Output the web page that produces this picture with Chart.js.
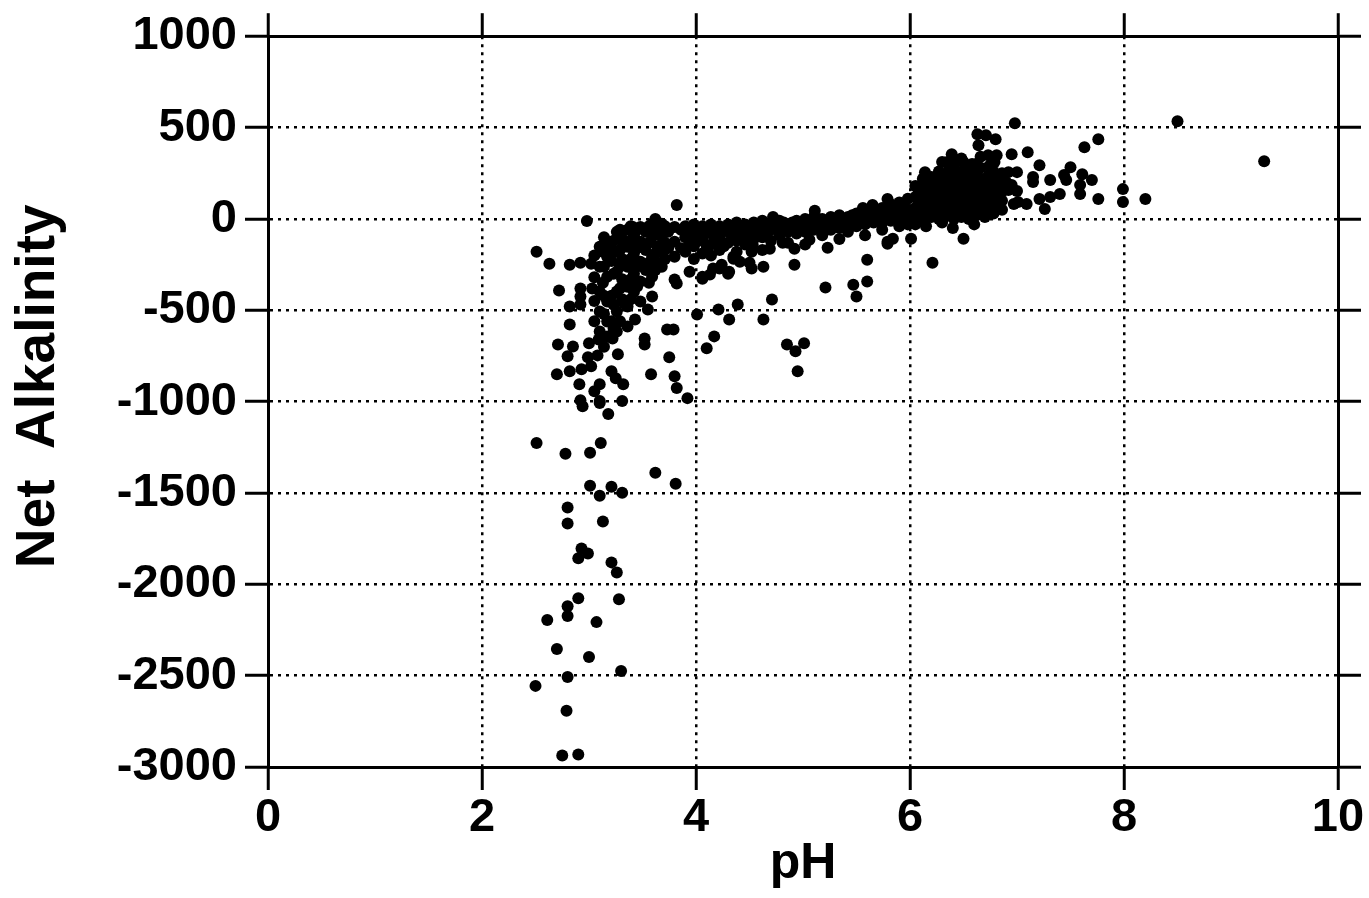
<!DOCTYPE html>
<html>
<head>
<meta charset="utf-8">
<title>Net Alkalinity vs pH</title>
<script src="https://cdn.jsdelivr.net/npm/chart.js@4.4.0/dist/chart.umd.min.js"></script>
<style>
  html, body { margin: 0; padding: 0; background: #fff; }
  canvas { display: block; }
</style>
</head>
<body>
<canvas id="myChart" width="1369" height="898"></canvas>
<script>
// tick values
const xTicks = [0, 2, 4, 6, 8, 10];
const yTicks = [-3000, -2500, -2000, -1500, -1000, -500, 0, 500, 1000];

// [pH, net alkalinity]

// very acid, strongly negative tail
const tailPoints = [
  [2.94,-1025],[3.10,-1008],[3.18,-1068],[3.31,-997],[2.51,-1226],[2.78,-1286],
  [3.01,-1280],[3.11,-1226],[3.62,-1390],[3.81,-1450],[3.01,-1460],[3.21,-1466],
  [3.10,-1515],[3.31,-1499],[2.80,-1580],[2.80,-1667],[3.13,-1656],[2.93,-1804],
  [2.99,-1831],[2.90,-1858],[3.21,-1880],[3.26,-1935],[2.90,-2076],[3.28,-2082],
  [2.80,-2120],[2.80,-2174],[2.61,-2196],[3.07,-2207],[2.70,-2354],[3.00,-2398],
  [3.30,-2474],[2.80,-2507],[2.50,-2556],[2.79,-2692],[2.75,-2937],[2.90,-2932],
  [2.92,-992],[3.10,-997],[3.92,-981]
];

// acid cluster, pH 2.5 - 4.3
const acidPoints = [
  [2.98,-11],[3.82,76],[2.51,-180],[2.63,-245],[2.82,-251],[2.92,-240],[3.02,-245],
  [2.72,-392],[2.92,-381],[3.03,-381],[2.82,-480],[2.92,-425],[2.92,-469],[2.82,-578],
  [2.71,-687],[2.85,-698],[3.00,-681],[2.80,-752],[2.99,-757],[3.08,-747],[3.27,-741],
  [2.70,-850],[2.82,-834],[2.93,-823],[3.02,-807],[2.91,-905],[3.10,-905],[3.05,-943],
  [3.21,-834],[3.25,-872],[3.32,-905],
  [3.10,-153],[3.10,-262],[3.10,-398],[3.10,-507],[3.10,-616],
  [3.17,-125],[3.17,-207],[3.17,-316],[3.17,-452],[3.17,-561],[3.17,-643],
  [3.26,-71],[3.26,-180],[3.26,-289],[3.26,-398],[3.26,-507],[3.26,-616],
  [3.36,-60],[3.36,-153],[3.36,-262],[3.36,-371],[3.36,-480],[3.36,-589],
  [3.48,-44],[3.48,-125],[3.48,-234],[3.48,-343],[3.48,-452],
  [3.59,-27],[3.59,-98],[3.59,-207],[3.59,-316],[3.59,-425],
  [3.68,-27],[3.68,-98],[3.68,-180],[3.68,-262],
  [3.80,-44],[3.80,-125],[3.80,-207],
  [3.13,-180],[3.13,-350],[3.21,-230],[3.21,-420],[3.21,-560],[3.31,-120],[3.31,-220],
  [3.31,-330],[3.31,-440],[3.42,-90],[3.42,-190],[3.42,-300],[3.42,-400],[3.53,-70],
  [3.53,-170],[3.53,-280],[3.64,-60],[3.64,-150],[3.64,-240],[3.74,-70],[3.74,-160],
  [3.21,-163],[3.31,-109],[3.41,-44],[3.62,0],
  [3.52,-654],[3.52,-687],[3.73,-605],[3.79,-605],[3.75,-757],[3.58,-850],[3.80,-861],
  [3.82,-926],[3.80,-332],[3.43,-550],[3.55,-496],[3.33,-463],[3.09,-660],[3.22,-654],
  [3.82,-354],[3.94,-289],[4.06,-316],[4.16,-272],[4.24,-251],[4.30,-300],
  [3.05,-200],[3.05,-320],[3.05,-450],[3.05,-560],
  [3.14,-100],[3.14,-260],[3.14,-420],[3.14,-520],[3.14,-700],
  [3.23,-120],[3.23,-300],[3.23,-470],[3.23,-600],
  [3.29,-60],[3.29,-170],[3.29,-260],[3.29,-380],[3.29,-560],
  [3.39,-40],[3.39,-120],[3.39,-220],[3.39,-330],[3.39,-440],
  [3.45,-60],[3.45,-160],[3.45,-260],[3.45,-370],
  [3.56,-40],[3.56,-130],[3.56,-240],[3.56,-350],
  [3.62,-80],[3.62,-190],[3.62,-280],
  [3.71,-40],[3.71,-130],[3.71,-220],
  [3.86,-60],[3.86,-160]
];

// transition band, pH 3.9 - 6
const bandPoints = [
  [3.90,-40],[3.90,-100],[3.90,-180],
  [3.98,-30],[3.98,-90],[3.98,-150],[3.98,-220],
  [4.06,-40],[4.06,-110],[4.06,-190],
  [4.14,-30],[4.14,-80],[4.14,-140],[4.14,-200],
  [4.22,-40],[4.22,-100],[4.22,-170],
  [4.30,-30],[4.30,-70],[4.30,-130],
  [4.38,-20],[4.38,-60],[4.38,-120],[4.38,-180],
  [4.46,-30],[4.46,-80],[4.46,-140],
  [4.54,-20],[4.54,-60],[4.54,-110],
  [4.62,-10],[4.62,-50],[4.62,-100],[4.62,-170],
  [4.70,-20],[4.70,-60],[4.70,-120],
  [4.78,-10],[4.78,-40],[4.78,-90],
  [4.86,-30],[4.86,-70],[4.86,-130],
  [4.94,-10],[4.94,-40],[4.94,-80],
  [5.02,0],[5.02,-30],[5.02,-70],[5.02,-140],
  [5.10,10],[5.10,-20],[5.10,-60],
  [5.18,0],[5.18,-40],[5.18,-90],
  [5.26,10],[5.26,-20],[5.26,-60],
  [5.34,20],[5.34,-10],[5.34,-50],[5.34,-110],
  [5.42,10],[5.42,-30],[5.42,-70],
  [5.50,30],[5.50,0],[5.50,-40],
  [5.58,40],[5.58,10],[5.58,-30],[5.58,-90],
  [5.66,50],[5.66,10],[5.66,-20],
  [5.74,60],[5.74,20],[5.74,-20],[5.74,-60],
  [5.82,80],[5.82,30],[5.82,-10],
  [5.90,90],[5.90,40],[5.90,0],[5.90,-40],
  [5.98,110],[5.98,50],[5.98,10],[5.98,-30],
  [3.94,-60],[3.94,-130],[4.02,-60],[4.02,-120],[4.10,-60],[4.10,-150],[4.18,-60],
  [4.18,-120],[4.26,-60],[4.26,-150],[4.34,-40],[4.34,-100],[4.42,-50],[4.42,-100],
  [4.50,-40],[4.50,-90],[4.58,-40],[4.58,-80],[4.66,-30],[4.66,-80],[4.74,-40],
  [4.82,-20],[4.82,-60],[4.90,-20],[4.90,-50],[4.98,-20],[4.98,-60],[5.06,-10],
  [5.06,-40],[5.14,0],[5.14,-30],[5.22,-10],[5.22,-50],[5.30,0],[5.30,-30],[5.38,0],
  [5.38,-40],[5.46,20],[5.46,-20],[5.54,20],[5.54,-10],[5.62,30],[5.62,-10],[5.70,40],
  [5.70,0],[5.78,50],[5.78,10],[5.86,60],[5.86,20],[5.94,70],[5.94,20],
  [4.10,-708],[4.17,-643],[4.21,-496],[4.31,-550],[4.39,-469],[4.63,-550],[4.71,-441],
  [4.01,-523],[4.35,-218],[4.50,-240],[4.63,-262],[4.52,-272],[4.85,-687],[4.93,-725],
  [5.01,-681],[4.95,-834],[5.21,-376],[5.47,-360],[5.60,-343],[5.50,-425],[4.92,-251],
  [5.23,-158],[5.60,-223],[5.79,-125],[4.81,-131],[4.92,-163],[5.06,-114],[4.41,-234],
  [4.69,-163],[4.52,-180],[4.53,-142],[4.35,-207],[4.31,-289],[4.22,-272],[4.13,-305],
  [4.06,-327],[5.84,-109],[5.79,-136],[6.01,-109],[6.21,-240],[6.50,-109],
  [5.11,44],[5.56,60],[5.65,76],[5.79,109],[4.72,11]
];

// near-neutral cluster and the alkaline points
const neutralPoints = [
  [6.05,20],[6.05,60],[6.05,120],[6.05,180],
  [6.12,0],[6.12,50],[6.12,100],[6.12,160],[6.12,220],
  [6.20,10],[6.20,60],[6.20,110],[6.20,170],[6.20,230],
  [6.27,0],[6.27,40],[6.27,90],[6.27,150],[6.27,200],[6.27,260],
  [6.34,20],[6.34,70],[6.34,130],[6.34,190],[6.34,250],[6.34,310],
  [6.41,0],[6.41,50],[6.41,100],[6.41,160],[6.41,220],[6.41,280],
  [6.48,10],[6.48,60],[6.48,120],[6.48,180],[6.48,240],[6.48,330],
  [6.55,0],[6.55,40],[6.55,90],[6.55,150],[6.55,210],[6.55,270],
  [6.62,20],[6.62,70],[6.62,130],[6.62,190],[6.62,250],[6.62,300],
  [6.70,10],[6.70,60],[6.70,110],[6.70,170],[6.70,220],
  [6.78,30],[6.78,80],[6.78,140],[6.78,200],[6.78,260],
  [6.86,50],[6.86,100],[6.86,150],[6.86,200],[6.86,250],
  [6.08,40],[6.08,90],[6.08,140],
  [6.16,30],[6.16,80],[6.16,130],[6.16,190],
  [6.23,30],[6.23,80],[6.23,140],[6.23,200],
  [6.31,0],[6.31,50],[6.31,110],[6.31,170],[6.31,230],
  [6.37,30],[6.37,90],[6.37,150],[6.37,210],[6.37,270],
  [6.44,20],[6.44,80],[6.44,140],[6.44,200],[6.44,260],[6.44,320],
  [6.51,30],[6.51,90],[6.51,150],[6.51,210],[6.51,270],
  [6.58,20],[6.58,60],[6.58,120],[6.58,180],[6.58,240],
  [6.66,40],[6.66,100],[6.66,160],[6.66,220],[6.66,280],[6.66,340],
  [6.74,40],[6.74,90],[6.74,150],[6.74,240],[6.74,290],
  [6.82,60],[6.82,120],[6.82,180],[6.82,230],
  [6.05,-30],[6.15,-40],[6.30,-20],[6.40,-50],[6.60,-30],
  [6.98,523],[6.63,463],[6.71,458],[6.80,436],[6.64,403],[6.39,354],[6.73,349],
  [6.81,349],[6.95,354],[7.10,365],[7.63,392],[7.76,436],[7.21,294],[7.50,283],
  [7.61,245],[7.70,213],[7.59,185],[7.59,136],[7.44,240],[7.46,213],[7.40,136],
  [7.15,229],[7.15,202],[7.31,213],[7.21,109],[7.31,120],[7.26,54],[7.76,109],
  [6.92,256],[7.00,256],[6.92,158],[7.00,153],[7.09,82],[7.01,93],[6.14,256],
  [6.09,158],[6.30,311],[6.50,311],[6.58,300],[6.79,311],[6.97,82],[6.90,200],
  [6.95,185],[8.50,534],[9.31,316],[7.99,163],[7.99,93],[8.20,109]
];

function toXY(points) {
  return points.map(p => ({ x: p[0], y: p[1] }));
}

function makeDataset(label, points) {
  return {
    label: label,
    data: toXY(points),
    backgroundColor: '#000',
    borderWidth: 0,
    pointRadius: 6,
    pointHoverRadius: 6
  };
}

const tickFont = { family: "'Liberation Sans', Arial, sans-serif", size: 47, weight: 'bold' };
const titleFont = { family: "'Liberation Sans', Arial, sans-serif", size: 55, weight: 'bold' };

function gridOpts(onArea) {
  return {
    color: '#000',
    lineWidth: 2.5,
    drawOnChartArea: onArea,
    tickLength: 23,
    tickWidth: 3,
    tickColor: '#000',
    tickBorderDash: []
  };
}

const borderOpts = { display: true, color: '#000', width: 3, dash: [3, 5] };

const ctx = document.getElementById('myChart').getContext('2d');

new Chart(ctx, {
  type: 'scatter',
  data: {
    datasets: [
      makeDataset('tail', tailPoints),
      makeDataset('acid', acidPoints),
      makeDataset('band', bandPoints),
      makeDataset('neutral', neutralPoints)
    ]
  },
  options: {
    responsive: false,
    animation: false,
    devicePixelRatio: 1,
    layout: { padding: 0 },
    plugins: {
      legend: { display: false },
      tooltip: { enabled: false }
    },
    scales: {
      x: {
        type: 'linear',
        position: 'bottom',
        min: xTicks[0],
        max: xTicks[xTicks.length - 1],
        afterBuildTicks: axis => { axis.ticks = xTicks.map(v => ({ value: v })); },
        afterFit: axis => { axis.height = 131; },
        ticks: { color: '#000', font: tickFont, padding: 0, maxRotation: 0 },
        grid: gridOpts(true),
        border: borderOpts,
        title: { display: true, text: 'pH', color: '#000', font: { ...titleFont, size: 50 }, padding: { top: 0, bottom: 4 } }
      },
      y: {
        type: 'linear',
        position: 'left',
        min: yTicks[0],
        max: yTicks[yTicks.length - 1],
        afterBuildTicks: axis => { axis.ticks = yTicks.map(v => ({ value: v })); },
        afterFit: axis => { axis.width = 268; },
        ticks: { color: '#000', font: tickFont, padding: 8, callback: v => String(v) },
        grid: gridOpts(true),
        border: borderOpts,
        // leading spaces nudge the rotated title up a little, like the original
        title: { display: true, text: '  Net  Alkalinity', color: '#000', font: titleFont, padding: { top: 6, bottom: 0 } }
      },
      x2: {
        type: 'linear',
        position: 'top',
        min: xTicks[0],
        max: xTicks[xTicks.length - 1],
        afterBuildTicks: axis => { axis.ticks = xTicks.map(v => ({ value: v })); },
        afterFit: axis => { axis.height = 33; },
        ticks: { display: false },
        grid: gridOpts(false),
        border: borderOpts
      },
      y2: {
        type: 'linear',
        position: 'right',
        min: yTicks[0],
        max: yTicks[yTicks.length - 1],
        afterBuildTicks: axis => { axis.ticks = yTicks.map(v => ({ value: v })); },
        afterFit: axis => { axis.width = 31; },
        ticks: { display: false },
        grid: gridOpts(false),
        border: borderOpts
      }
    }
  }
});
</script>
</body>
</html>
